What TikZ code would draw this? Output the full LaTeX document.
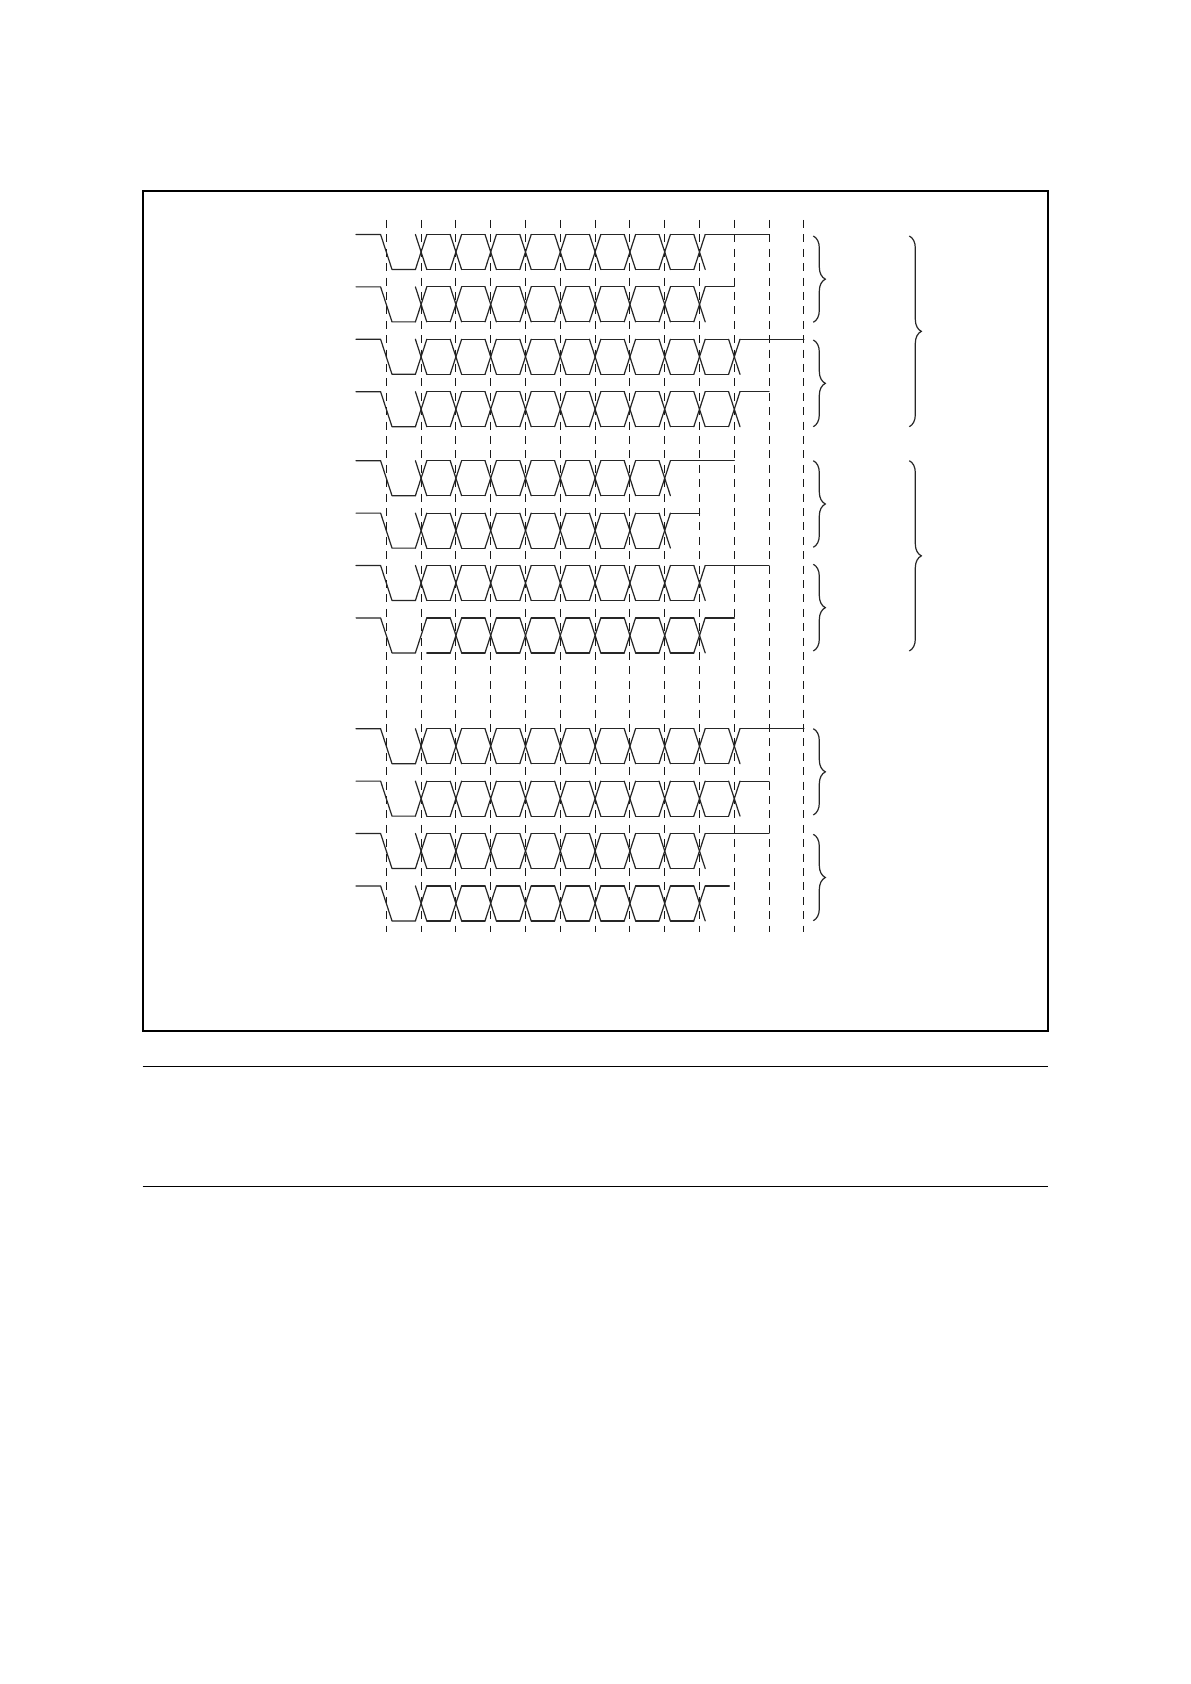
\documentclass[tikz,border=0pt]{standalone}
\usetikzlibrary{decorations.pathreplacing}
\begin{document}
\begin{tikzpicture}[x=0.5pt,y=-0.5pt,
  sig/.style={line width=0.6pt, draw=black!85, line cap=round, line join=round},
  gridline/.style={line width=0.55pt, draw=black!90, dash pattern=on 4pt off 3.2pt},
  frame/.style={line width=1pt},
  rulel/.style={line width=0.6pt},
  brc/.style={decorate, decoration={brace, amplitude=6pt}, line width=0.6pt, draw=black!85}]
\useasboundingbox (0,0) rectangle (1190,1684);
\fill[white] (0,0) rectangle (1190,1684);
% frame and rules
\draw[frame] (142.7,190.7) rectangle (1047.7,1030.7);
\draw[rulel] (142.7,1066.3) -- (1047.7,1066.3);
\draw[rulel] (142.7,1186.3) -- (1047.7,1186.3);
% dashed timing lines
\foreach \k in {0,...,12}
  \draw[gridline] ({386.3+34.8*\k},220) -- ({386.3+34.8*\k},932);
% signal rows: top y / number of crossings / end x of high line / first falling stroke missing
\def\hw{5.7}
\foreach \yt/\n/\xe/\f in {
  234.5/9/769.1/0, 286.9/9/734.3/0, 339.3/10/803.9/0, 391.7/10/769.1/0,
  460.7/8/734.3/0, 513.1/8/699.5/0, 565.5/9/769.1/0, 617.9/9/734.3/1,
  728.7/10/803.9/0, 781.1/10/769.1/0, 833.5/9/769.1/0, 885.9/9/729.3/0}{
  \pgfmathsetmacro\yb{\yt+35}
  \pgfmathtruncatemacro\nm{\n-1}
  % start: high, fall, low
  \draw[sig] (356,\yt) -- ({386.3-\hw},\yt) -- ({386.3+\hw},\yb) -- ({421.1-\hw},\yb);
  % first crossing
  \draw[sig] ({421.1-\hw},\yb) -- ({421.1+\hw},\yt);
  \ifnum\f=0
    \draw[sig] ({421.1-\hw},\yt) -- ({421.1+\hw},\yb);
  \fi
  % further crossings
  \foreach \k in {2,...,\n}{
    \pgfmathsetmacro\dk{386.3+34.8*\k}
    \draw[sig] ({\dk-\hw},\yb) -- ({\dk+\hw},\yt);
    \draw[sig] ({\dk-\hw},\yt) -- ({\dk+\hw},\yb);
  }
  % data levels between crossings
  \foreach \k in {1,...,\nm}{
    \pgfmathsetmacro\dk{386.3+34.8*\k}
    \draw[sig] ({\dk+\hw},\yt) -- ({\dk+34.8-\hw},\yt);
    \draw[sig] ({\dk+\hw},\yb) -- ({\dk+34.8-\hw},\yb);
  }
  % final high level
  \pgfmathsetmacro\dn{386.3+34.8*\n}
  \draw[sig] ({\dn+\hw},\yt) -- (\xe,\yt);
}
% small braces
\foreach \ya/\yb in {236/322.3, 340/426.7, 460.7/547.3, 564.3/651, 728.7/815, 834.3/920.7}
  \draw[brc] (813.3,\ya) -- (813.3,\yb);
% large braces
\foreach \ya/\yb in {236/426.7, 460.7/651}
  \draw[brc] (909.3,\ya) -- (909.3,\yb);
\end{tikzpicture}
\end{document}
